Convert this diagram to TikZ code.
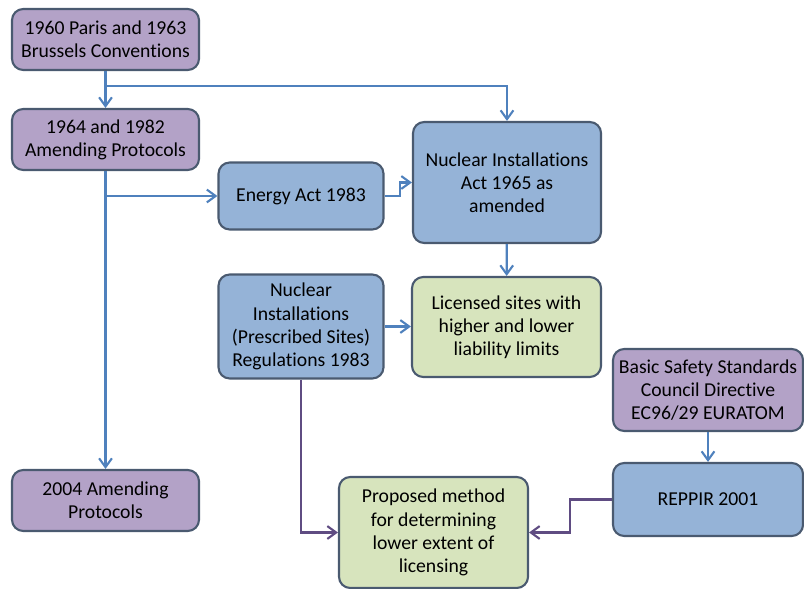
\documentclass[tikz,border=0pt]{standalone}
\usepackage{fontspec}
\setmainfont{Carlito}[Ligatures=NoCommon]
\usetikzlibrary{arrows.meta}
\definecolor{lilacfill}{HTML}{B3A2C7}
\definecolor{bluefill}{HTML}{95B3D7}
\definecolor{greenfill}{HTML}{D7E4BD}
\definecolor{boxline}{HTML}{4A5A70}
\definecolor{bluewire}{HTML}{4F81BD}
\definecolor{lilacwire}{HTML}{5F4C82}
\tikzset{
  box/.style={draw=boxline, line width=1.5pt, rounded corners=8pt, align=center,
    font=\fontsize{14}{16.5}\selectfont, inner sep=2pt},
  lilacbox/.style={box, fill=lilacfill},
  bluebox/.style={box, fill=bluefill},
  greenbox/.style={box, fill=greenfill},
  wire/.style={line width=1.5pt},
  bluearrow/.style={wire, draw=bluewire, -{Straight Barb[length=2.2mm,width=3.2mm]}},
  lilacarrow/.style={wire, draw=lilacwire, -{Straight Barb[length=2.2mm,width=3.2mm]}}
}
\begin{document}
\begin{tikzpicture}[x=0.025cm, y=-0.025cm]
  \useasboundingbox (0,0) rectangle (804,589);
  % left column
  \node[lilacbox, minimum width=4.675cm, minimum height=1.525cm] (paris) at (105.5,39.5) {1960 Paris and 1963\\Brussels Conventions};
  \node[lilacbox, minimum width=4.675cm, minimum height=1.525cm] (amend) at (105.5,139.5) {1964 and 1982\\Amending Protocols};
  \node[lilacbox, minimum width=4.675cm, minimum height=1.525cm] (later) at (105.5,500.5) {2004 Amending\\Protocols};
  % middle
  \node[bluebox, minimum width=4.125cm, minimum height=1.675cm] (energy) at (301,196) {Energy Act 1983};
  \node[bluebox, minimum width=4.125cm, minimum height=2.6cm] (regs) at (301,326.5) {Nuclear\\Installations\\(Prescribed Sites)\\Regulations 1983};
  \node[greenbox, minimum width=4.725cm, minimum height=2.775cm] (method) at (433.5,532.5) {Proposed method\\for determining\\lower extent of\\licensing};
  % right
  \node[bluebox, minimum width=4.7cm, minimum height=3.025cm] (nia) at (507,182.5) {Nuclear Installations\\Act 1965 as\\amended};
  \node[greenbox, minimum width=4.725cm, minimum height=2.5cm] (sites) at (506.5,327) {Licensed sites with\\higher and lower\\liability limits};
  \node[lilacbox, minimum width=4.75cm, minimum height=2.05cm] (bss) at (708,390) {Basic Safety Standards\\Council Directive\\EC96/29 EURATOM};
  \node[bluebox, minimum width=4.75cm, minimum height=1.825cm] (reppir) at (708,499.5) {REPPIR 2001};
  % junctions
  \coordinate (j1) at (105.5,86);
  \coordinate (j2) at (105.5,196);
  % flows
  \draw[bluearrow] (paris) -- (amend);
  \draw[bluearrow] (j1) -| (nia);
  \draw[bluearrow] (amend) -- (later);
  \draw[bluearrow] (j2) -- (energy);
  \draw[bluearrow] (energy.east) -- ++(15,0) |- (nia.west);
  \draw[bluearrow] (nia) -- (sites);
  \draw[bluearrow] (regs) -- (regs -| sites.west);
  \draw[bluearrow] (bss) -- (reppir);
  \draw[lilacarrow] (regs.south) |- (method.west);
  \draw[lilacarrow] (reppir.west) -- ++(-42,0) |- (method.east);
\end{tikzpicture}
\end{document}
